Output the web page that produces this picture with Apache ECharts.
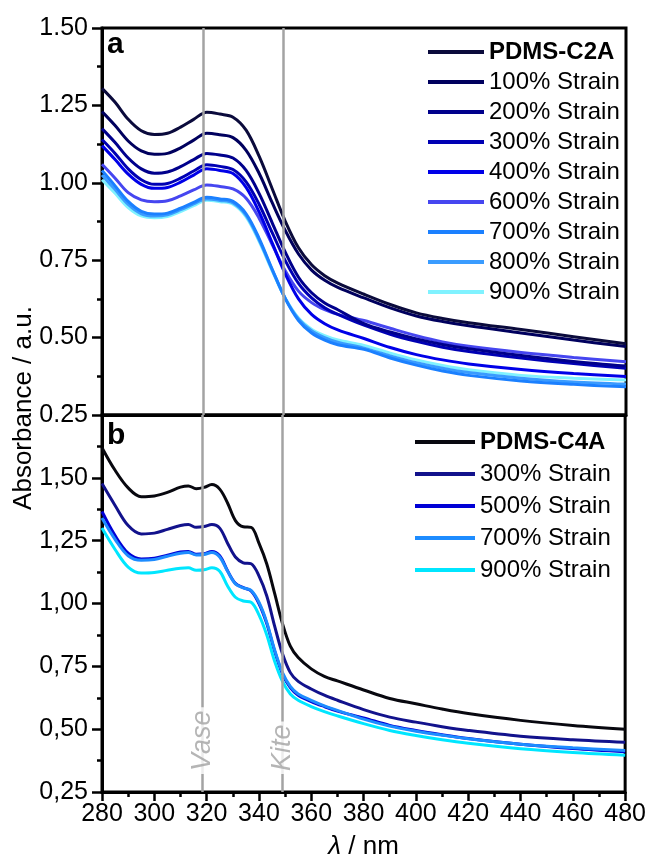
<!DOCTYPE html>
<html>
<head>
<meta charset="utf-8">
<script src="https://cdn.jsdelivr.net/npm/echarts@6/dist/echarts.min.js"></script>
<style>
html,body{margin:0;padding:0;background:#fff;}
#chart{width:649px;height:861px;}
</style>
</head>
<body>
<div id="chart"></div>
<script>
// ---------- Panel a data ----------
const wavelengthA = [280,285,290,295,300,305,310,315,320,325,330,335,340,345,350,355,360,365,370,380,390,400,410,420,440,460,480];
const namesA = ['PDMS-C2A','100% Strain','200% Strain','300% Strain','400% Strain','600% Strain','700% Strain','800% Strain','900% Strain'];
const absC2A  = [1.305,1.260,1.205,1.168,1.156,1.160,1.180,1.205,1.228,1.222,1.212,1.170,1.085,0.980,0.875,0.790,0.735,0.700,0.676,0.640,0.607,0.580,0.562,0.548,0.526,0.503,0.480];
const abs100A = [1.230,1.185,1.135,1.103,1.092,1.095,1.113,1.138,1.160,1.155,1.146,1.105,1.030,0.935,0.845,0.770,0.718,0.685,0.662,0.628,0.596,0.570,0.552,0.538,0.515,0.492,0.471];
const abs200A = [1.175,1.130,1.080,1.045,1.031,1.035,1.052,1.075,1.095,1.090,1.080,1.040,0.965,0.870,0.775,0.695,0.645,0.612,0.590,0.545,0.518,0.496,0.478,0.464,0.442,0.423,0.408];
const abs300A = [1.140,1.095,1.045,1.010,0.995,0.998,1.015,1.038,1.058,1.053,1.043,1.003,0.930,0.838,0.748,0.675,0.628,0.596,0.575,0.540,0.511,0.488,0.469,0.455,0.434,0.416,0.401];
const abs400A = [1.120,1.075,1.028,0.995,0.982,0.985,1.002,1.025,1.045,1.040,1.030,0.985,0.905,0.805,0.705,0.625,0.575,0.545,0.525,0.497,0.468,0.445,0.428,0.415,0.397,0.384,0.374];
const abs600A = [1.060,1.015,0.968,0.945,0.939,0.942,0.958,0.977,0.993,0.988,0.980,0.950,0.885,0.800,0.715,0.650,0.613,0.590,0.575,0.555,0.530,0.506,0.486,0.472,0.452,0.436,0.422];
const abs700A = [1.040,0.990,0.940,0.908,0.899,0.902,0.918,0.937,0.953,0.948,0.940,0.900,0.820,0.720,0.625,0.555,0.515,0.492,0.477,0.462,0.434,0.411,0.392,0.378,0.360,0.349,0.341];
const abs800A = [1.025,0.978,0.930,0.900,0.893,0.897,0.913,0.932,0.948,0.943,0.935,0.895,0.815,0.718,0.626,0.560,0.522,0.500,0.485,0.466,0.441,0.419,0.401,0.387,0.369,0.357,0.350];
const abs900A = [1.010,0.966,0.920,0.893,0.887,0.891,0.907,0.926,0.944,0.939,0.931,0.890,0.810,0.715,0.626,0.563,0.527,0.506,0.492,0.475,0.450,0.428,0.410,0.396,0.378,0.369,0.363];
const valuesA = [absC2A, abs100A, abs200A, abs300A, abs400A, abs600A, abs700A, abs800A, abs900A];

// ---------- Panel b data ----------
const wavelengthB = [280,285,290,295,300,305,310,313,316,319,322,325,328,331,334,337,340,343,346,349,352,355,360,365,370,380,390,400,410,420,440,460,480];
const namesB = ['PDMS-C4A','300% Strain','500% Strain','700% Strain','900% Strain'];
const absC4A  = [1.620,1.530,1.460,1.425,1.428,1.442,1.463,1.468,1.457,1.462,1.473,1.455,1.400,1.330,1.305,1.303,1.240,1.157,1.040,0.920,0.830,0.785,0.740,0.710,0.692,0.656,0.622,0.601,0.580,0.562,0.535,0.515,0.500];
const abs300B = [1.477,1.390,1.310,1.277,1.280,1.295,1.310,1.314,1.303,1.306,1.314,1.300,1.240,1.185,1.162,1.158,1.110,1.030,0.910,0.800,0.725,0.690,0.660,0.635,0.615,0.578,0.548,0.528,0.510,0.495,0.472,0.458,0.448];
const abs500B = [1.366,1.270,1.200,1.177,1.180,1.192,1.205,1.207,1.196,1.198,1.207,1.190,1.130,1.080,1.063,1.050,1.000,0.920,0.810,0.720,0.665,0.635,0.610,0.590,0.572,0.545,0.515,0.495,0.478,0.463,0.440,0.423,0.410];
const abs700B = [1.340,1.255,1.190,1.172,1.175,1.188,1.200,1.203,1.193,1.195,1.203,1.185,1.128,1.078,1.062,1.052,1.005,0.925,0.815,0.725,0.670,0.640,0.615,0.593,0.575,0.540,0.512,0.492,0.476,0.462,0.440,0.426,0.415];
const abs900B = [1.300,1.215,1.145,1.121,1.123,1.132,1.140,1.142,1.132,1.134,1.142,1.128,1.070,1.025,1.010,1.005,0.955,0.875,0.770,0.690,0.640,0.615,0.590,0.570,0.553,0.522,0.495,0.475,0.458,0.444,0.422,0.407,0.396];
const valuesB = [absC4A, abs300B, abs500B, abs700B, abs900B];

// ---------- Reference wavelengths ----------
const markerNames = ['Vase','Kite'];
const markerWavelengths = [318.5, 349];
const markerLabelBase = 0.322;

// ---------- Axis ranges ----------
const xRange = [280, 480];
const yRangeA = [0.25, 1.50];
const yRangeB = [0.25, 1.75];

// ---------- Styles ----------
const colorsA = ['#0b0b3c','#00005e','#00008c','#0000b4','#0000e8','#4646f0','#1b80ff','#3a9cff','#80f2ff'];
const colorsB = ['#08080f','#12128c','#0000d6','#1d8cff','#00e6ff'];
const FONT = '"Liberation Sans", Arial, sans-serif';
const markerGray = '#a3a3a3';

function pairs(xs, ys){ return xs.map((x,i)=>[x, ys[i]]); }

const series = [];
[0,1].forEach(gi=>{
  series.push({
    type:'line', name:'markers'+gi, xAxisIndex:gi, yAxisIndex:gi, data:[], z:1, silent:true,
    markLine:{
      silent:true, symbol:'none', animation:false,
      label:{show:false},
      lineStyle:{color:markerGray, width:2.5, type:'solid'},
      data: markerWavelengths.map(w=>({xAxis:w}))
    }
  });
});
namesA.forEach((n,i)=>{
  series.push({
    type:'line', name:n, xAxisIndex:0, yAxisIndex:0, data:pairs(wavelengthA, valuesA[i]),
    symbol:'none', smooth:0.35, z:3 + (namesA.length - i) * 0.01,
    lineStyle:{color:colorsA[i], width:3}, itemStyle:{color:colorsA[i]}
  });
});
namesB.forEach((n,i)=>{
  series.push({
    type:'line', name:n, xAxisIndex:1, yAxisIndex:1, data:pairs(wavelengthB, valuesB[i]),
    symbol:'none', smooth:0.35, z:3,
    lineStyle:{color:colorsB[i], width:3}, itemStyle:{color:colorsB[i]}
  });
});
series.push({
  type:'scatter', name:'markerLabels', xAxisIndex:1, yAxisIndex:1, z:6, silent:true,
  symbolSize:0,
  data: markerWavelengths.map(w=>[w, markerLabelBase]),
  label:{
    show:true, position:'inside', rotate:90, align:'left', verticalAlign:'middle',
    formatter:p=>markerNames[p.dataIndex],
    color:markerGray, fontSize:27, fontStyle:'italic', fontFamily:FONT,
    backgroundColor:'#fff', padding:[0,3], lineHeight:24
  }
});

const axisLine = {show:true, onZero:false, lineStyle:{color:'#000', width:3}};
const tickStyle = {color:'#000', width:2.5};

const option = {
  animation:false,
  backgroundColor:'#fff',
  textStyle:{fontFamily:FONT},
  grid:[
    {left:102, top:28, width:524, height:387, show:true, borderColor:'#000', borderWidth:3, backgroundColor:'transparent'},
    {left:102, top:415, width:524, height:384, show:true, borderColor:'#000', borderWidth:3, backgroundColor:'transparent'}
  ],
  xAxis:[
    {type:'value', gridIndex:0, min:xRange[0], max:xRange[1], interval:20,
     axisLine:axisLine, axisTick:{show:false}, axisLabel:{show:false}, splitLine:{show:false}},
    {type:'value', gridIndex:1, min:xRange[0], max:xRange[1], interval:20,
     axisLine:axisLine,
     axisTick:{show:true, inside:false, length:9, lineStyle:tickStyle},
     minorTick:{show:true, splitNumber:2, length:5, lineStyle:tickStyle},
     axisLabel:{show:true, fontSize:25, color:'#000', margin:10, fontFamily:FONT},
     splitLine:{show:false}, minorSplitLine:{show:false},
     name:'{i|λ} / nm', nameLocation:'middle', nameGap:42,
     nameTextStyle:{fontSize:26, color:'#000', fontFamily:FONT,
       rich:{i:{fontStyle:'italic', fontSize:26, fontFamily:FONT, color:'#000'}}}
    }
  ],
  yAxis:[
    {type:'value', gridIndex:0, min:yRangeA[0], max:yRangeA[1], interval:0.25,
     axisLine:axisLine,
     axisTick:{show:true, inside:false, length:10, lineStyle:tickStyle},
     minorTick:{show:true, splitNumber:2, length:5, lineStyle:tickStyle},
     axisLabel:{show:true, fontSize:25, color:'#000', margin:14, fontFamily:FONT,
       formatter:v=>v.toFixed(2)},
     splitLine:{show:false}},
    {type:'value', gridIndex:1, min:yRangeB[0], max:yRangeB[1], interval:0.25,
     axisLine:axisLine,
     axisTick:{show:true, inside:false, length:10, lineStyle:tickStyle},
     minorTick:{show:true, splitNumber:2, length:5, lineStyle:tickStyle},
     axisLabel:{show:true, fontSize:25, color:'#000', margin:14, fontFamily:FONT,
       formatter:v=> v > 1.7 ? '' : v.toFixed(2).replace('.', ',')},
     splitLine:{show:false}}
  ],
  legend:[
    {orient:'vertical', left:423, top:35, itemWidth:56, itemHeight:4, itemGap:6, icon:'rect',
     selectedMode:false,
     textStyle:{fontSize:24, color:'#000', fontFamily:FONT, lineHeight:24},
     data:namesA.map((n,i)=>({name:n, icon:'rect', itemStyle:{color:colorsA[i]},
       textStyle: i===0 ? {fontWeight:'bold', fontSize:24, color:'#000'} : {fontSize:24, color:'#000'}}))
    },
    {orient:'vertical', left:410, top:425, itemWidth:60, itemHeight:4, itemGap:8, icon:'rect',
     selectedMode:false,
     textStyle:{fontSize:24, color:'#000', fontFamily:FONT, lineHeight:24},
     data:namesB.map((n,i)=>({name:n, icon:'rect', itemStyle:{color:colorsB[i]},
       textStyle: i===0 ? {fontWeight:'bold', fontSize:24, color:'#000'} : {fontSize:24, color:'#000'}}))
    }
  ],
  graphic:[
    {type:'text', x:24, y:408, rotation:Math.PI/2,
     style:{text:'Absorbance / a.u.', font:'26px ' + FONT, fill:'#000', textAlign:'center', textVerticalAlign:'middle'}},
    {type:'text', x:107, y:45,
     style:{text:'a', font:'bold 30px ' + FONT, fill:'#000', textAlign:'left', textVerticalAlign:'middle'}},
    {type:'text', x:107, y:436,
     style:{text:'b', font:'bold 30px ' + FONT, fill:'#000', textAlign:'left', textVerticalAlign:'middle'}}
  ],
  series:series
};

const chart = echarts.init(document.getElementById('chart'), null, {renderer:'canvas'});
chart.setOption(option);
</script>
</body>
</html>
